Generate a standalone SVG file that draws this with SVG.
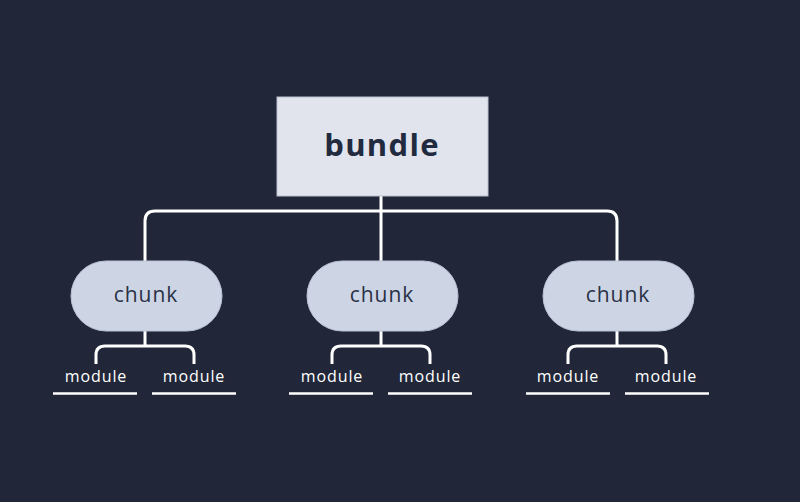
<svg xmlns="http://www.w3.org/2000/svg" width="800" height="502" viewBox="0 0 800 502">
<style>
.bg{fill:#212738}
.conn{fill:none;stroke:#ffffff;stroke-width:3}
.chunk rect{fill:#cdd5e5;stroke:#b9c2d3;stroke-width:1}
.chunk text{font-family:"Open Sans",sans-serif;font-size:21px;fill:#2a3145;text-anchor:middle;letter-spacing:1px}
.mod text{font-family:"Open Sans",sans-serif;font-size:16px;fill:#ffffff;text-anchor:middle;letter-spacing:0.9px}
.mod line{stroke:#ffffff;stroke-width:2.5}
</style>
<rect class="bg" x="0" y="0" width="800" height="502"/>
<g id="connectors">
<path class="conn" d="M381,196 V261"/>
<path class="conn" d="M145,261 V221 Q145,211 155,211 H607 Q617,211 617,221 V261"/>
<path class="conn" d="M145,331 V346"/>
<path class="conn" d="M96,364 V355 Q96,346 105,346 H185 Q194,346 194,355 V364"/>
<path class="conn" d="M381,331 V346"/>
<path class="conn" d="M332,364 V355 Q332,346 341,346 H421 Q430,346 430,355 V364"/>
<path class="conn" d="M617,331 V346"/>
<path class="conn" d="M568,364 V355 Q568,346 577,346 H657 Q666,346 666,355 V364"/>
</g>
<g id="bundle">
<rect x="277" y="97" width="211" height="99" fill="#e1e4ec" stroke="#b9c0cf" stroke-width="1"/>
<text x="382" y="156" font-family="'Open Sans',sans-serif" font-size="31" font-weight="bold" fill="#222a3f" text-anchor="middle" letter-spacing="1.3">bundle</text>
</g>
<g id="chunk1" class="chunk"><rect x="71" y="261" width="151" height="70" rx="35"/><text x="146" y="302">chunk</text></g>
<g id="chunk2" class="chunk"><rect x="307" y="261" width="151" height="70" rx="35"/><text x="382" y="302">chunk</text></g>
<g id="chunk3" class="chunk"><rect x="543" y="261" width="151" height="70" rx="35"/><text x="618" y="302">chunk</text></g>
<g id="module1" class="mod"><text x="96" y="382">module</text><line x1="53" y1="393.5" x2="137" y2="393.5"/></g>
<g id="module2" class="mod"><text x="194" y="382">module</text><line x1="152" y1="393.5" x2="236" y2="393.5"/></g>
<g id="module3" class="mod"><text x="332" y="382">module</text><line x1="289" y1="393.5" x2="373" y2="393.5"/></g>
<g id="module4" class="mod"><text x="430" y="382">module</text><line x1="388" y1="393.5" x2="472" y2="393.5"/></g>
<g id="module5" class="mod"><text x="568" y="382">module</text><line x1="526" y1="393.5" x2="610" y2="393.5"/></g>
<g id="module6" class="mod"><text x="666" y="382">module</text><line x1="625" y1="393.5" x2="709" y2="393.5"/></g>
</svg>
